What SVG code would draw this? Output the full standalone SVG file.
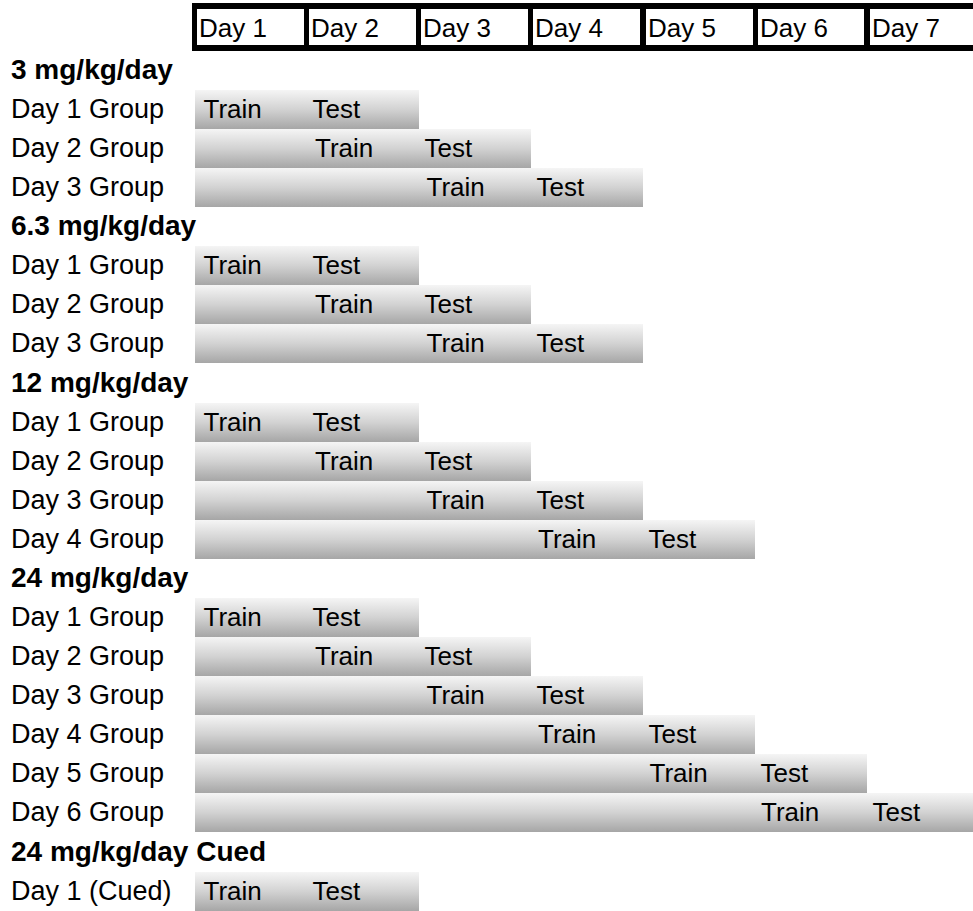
<svg xmlns="http://www.w3.org/2000/svg" width="973" height="911" viewBox="0 0 973 911">
<defs>
<linearGradient id="bar" x1="0" y1="0" x2="0" y2="1">
<stop offset="0" stop-color="#f5f5f5"/>
<stop offset="0.5" stop-color="#d2d2d2"/>
<stop offset="1" stop-color="#a6a6a6"/>
</linearGradient>
</defs>
<style>
text{font-family:"Liberation Sans",Arial,sans-serif;fill:#000}
.hd{font-size:26px}
.lb{font-size:27px}
.sec{font-size:28px;font-weight:bold}
.tt{font-size:26px}
.bar{fill:url(#bar)}
.cell{fill:#fff}
</style>
<rect width="973" height="911" fill="#fff"/>
<g id="header">
<rect x="192" y="3" width="800" height="48" fill="#000"/>
<rect class="cell" x="197" y="9" width="107" height="36"/>
<rect class="cell" x="309" y="9" width="107" height="36"/>
<rect class="cell" x="421" y="9" width="107" height="36"/>
<rect class="cell" x="533" y="9" width="107" height="36"/>
<rect class="cell" x="646" y="9" width="107" height="36"/>
<rect class="cell" x="758" y="9" width="106" height="36"/>
<rect class="cell" x="870" y="9" width="110" height="36"/>
<text class="hd" x="199" y="37">Day 1</text>
<text class="hd" x="311" y="37">Day 2</text>
<text class="hd" x="423" y="37">Day 3</text>
<text class="hd" x="535" y="37">Day 4</text>
<text class="hd" x="648" y="37">Day 5</text>
<text class="hd" x="760" y="37">Day 6</text>
<text class="hd" x="872" y="37">Day 7</text>
</g>

<g id="sec-3"><text class="sec" x="11" y="79">3 mg/kg/day</text></g>
<g id="r3-d1"><rect class="bar" x="195" y="90" width="224" height="39"/><text class="lb" x="11" y="118">Day 1 Group</text><text class="tt" x="203.5" y="118">Train</text><text class="tt" x="312.5" y="118">Test</text></g>
<g id="r3-d2"><rect class="bar" x="195" y="129" width="336" height="39"/><text class="lb" x="11" y="157">Day 2 Group</text><text class="tt" x="315" y="157">Train</text><text class="tt" x="424.5" y="157">Test</text></g>
<g id="r3-d3"><rect class="bar" x="195" y="168" width="448" height="39"/><text class="lb" x="11" y="196">Day 3 Group</text><text class="tt" x="426.5" y="196">Train</text><text class="tt" x="536.5" y="196">Test</text></g>

<g id="sec-6"><text class="sec" x="11" y="235">6.3 mg/kg/day</text></g>
<g id="r6-d1"><rect class="bar" x="195" y="246" width="224" height="39"/><text class="lb" x="11" y="274">Day 1 Group</text><text class="tt" x="203.5" y="274">Train</text><text class="tt" x="312.5" y="274">Test</text></g>
<g id="r6-d2"><rect class="bar" x="195" y="285" width="336" height="39"/><text class="lb" x="11" y="313">Day 2 Group</text><text class="tt" x="315" y="313">Train</text><text class="tt" x="424.5" y="313">Test</text></g>
<g id="r6-d3"><rect class="bar" x="195" y="324" width="448" height="39"/><text class="lb" x="11" y="352">Day 3 Group</text><text class="tt" x="426.5" y="352">Train</text><text class="tt" x="536.5" y="352">Test</text></g>

<g id="sec-12"><text class="sec" x="11" y="392">12 mg/kg/day</text></g>
<g id="r12-d1"><rect class="bar" x="195" y="403" width="224" height="39"/><text class="lb" x="11" y="431">Day 1 Group</text><text class="tt" x="203.5" y="431">Train</text><text class="tt" x="312.5" y="431">Test</text></g>
<g id="r12-d2"><rect class="bar" x="195" y="442" width="336" height="39"/><text class="lb" x="11" y="470">Day 2 Group</text><text class="tt" x="315" y="470">Train</text><text class="tt" x="424.5" y="470">Test</text></g>
<g id="r12-d3"><rect class="bar" x="195" y="481" width="448" height="39"/><text class="lb" x="11" y="509">Day 3 Group</text><text class="tt" x="426.5" y="509">Train</text><text class="tt" x="536.5" y="509">Test</text></g>
<g id="r12-d4"><rect class="bar" x="195" y="520" width="560" height="39"/><text class="lb" x="11" y="548">Day 4 Group</text><text class="tt" x="538" y="548">Train</text><text class="tt" x="648.5" y="548">Test</text></g>

<g id="sec-24"><text class="sec" x="11" y="587">24 mg/kg/day</text></g>
<g id="r24-d1"><rect class="bar" x="195" y="598" width="224" height="39"/><text class="lb" x="11" y="626">Day 1 Group</text><text class="tt" x="203.5" y="626">Train</text><text class="tt" x="312.5" y="626">Test</text></g>
<g id="r24-d2"><rect class="bar" x="195" y="637" width="336" height="39"/><text class="lb" x="11" y="665">Day 2 Group</text><text class="tt" x="315" y="665">Train</text><text class="tt" x="424.5" y="665">Test</text></g>
<g id="r24-d3"><rect class="bar" x="195" y="676" width="448" height="39"/><text class="lb" x="11" y="704">Day 3 Group</text><text class="tt" x="426.5" y="704">Train</text><text class="tt" x="536.5" y="704">Test</text></g>
<g id="r24-d4"><rect class="bar" x="195" y="715" width="560" height="39"/><text class="lb" x="11" y="743">Day 4 Group</text><text class="tt" x="538" y="743">Train</text><text class="tt" x="648.5" y="743">Test</text></g>
<g id="r24-d5"><rect class="bar" x="195" y="754" width="672" height="39"/><text class="lb" x="11" y="782">Day 5 Group</text><text class="tt" x="649.5" y="782">Train</text><text class="tt" x="760.5" y="782">Test</text></g>
<g id="r24-d6"><rect class="bar" x="195" y="793" width="784" height="39"/><text class="lb" x="11" y="821">Day 6 Group</text><text class="tt" x="761" y="821">Train</text><text class="tt" x="872.5" y="821">Test</text></g>

<g id="sec-cued"><text class="sec" x="11" y="861">24 mg/kg/day Cued</text></g>
<g id="cued-d1"><rect class="bar" x="195" y="872" width="224" height="39"/><text class="lb" x="11" y="900">Day 1 (Cued)</text><text class="tt" x="203.5" y="900">Train</text><text class="tt" x="312.5" y="900">Test</text></g>
</svg>
